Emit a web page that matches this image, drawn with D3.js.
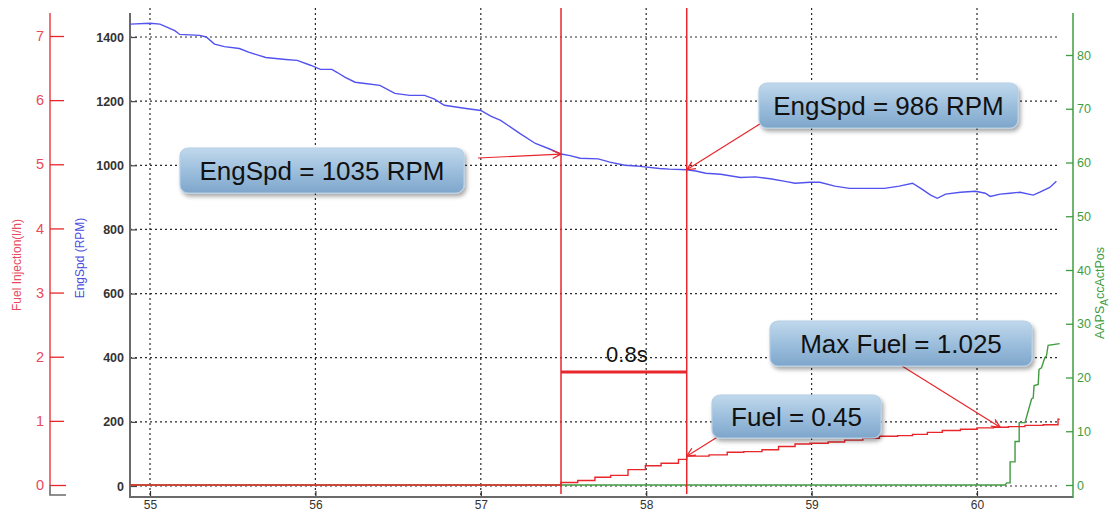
<!DOCTYPE html>
<html>
<head>
<meta charset="utf-8">
<script src="https://cdn.jsdelivr.net/npm/d3@7/dist/d3.min.js"></script>
<style>
  html, body { margin: 0; padding: 0; background: #fff; }
  svg { display: block; }
  .tick-lbl { font-family: "Liberation Sans Narrow", "Liberation Sans", Arial, sans-serif; }
  .callout { font-family: "Liberation Sans", Arial, sans-serif; }
</style>
</head>
<body>
<svg id="chart" width="1110" height="512"></svg>
<script>
// ---- axis ticks ----
const timeTicks = [55, 56, 57, 58, 59, 60];
const rpmTicks = [0, 200, 400, 600, 800, 1000, 1200, 1400];
const fuelTicks = [0, 1, 2, 3, 4, 5, 6, 7];
const pedalTicks = [0, 10, 20, 30, 40, 50, 60, 70, 80];

// ---- engine speed trace (s, RPM) ----
const engSpdTime = [54.88, 55.00, 55.06, 55.15, 55.18, 55.30, 55.34, 55.39, 55.45, 55.54,
  55.60, 55.70, 55.82, 55.89, 55.97, 56.03, 56.10, 56.13, 56.18, 56.24,
  56.30, 56.39, 56.48, 56.57, 56.66, 56.72, 56.78, 56.90, 57.00, 57.06,
  57.12, 57.24, 57.33, 57.42, 57.485, 57.54, 57.60, 57.71, 57.78, 57.87,
  57.94, 57.99, 58.08, 58.14, 58.245, 58.30, 58.36, 58.45, 58.57, 58.66,
  58.75, 58.84, 58.90, 58.99, 59.05, 59.14, 59.23, 59.35, 59.44, 59.53,
  59.61, 59.66, 59.72, 59.76, 59.81, 59.90, 59.99, 60.05, 60.08, 60.14,
  60.20, 60.26, 60.34, 60.38, 60.44, 60.48];
const engSpdRpm = [1440, 1443, 1440, 1420, 1408, 1405, 1400, 1378, 1370, 1364,
  1352, 1336, 1330, 1327, 1312, 1299, 1299, 1290, 1274, 1259,
  1255, 1249, 1224, 1218, 1218, 1206, 1187, 1178, 1171, 1153,
  1140, 1098, 1068, 1050, 1035, 1030, 1022, 1020, 1010, 1000,
  998, 995, 990, 988, 986, 982, 975, 972, 962, 964,
  958, 950, 944, 947, 947, 935, 928, 928, 928, 935,
  944, 928, 907, 897, 910, 916, 919, 913, 903, 910,
  913, 916, 907, 916, 931, 950];

// ---- fuel injection trace (s, l/h), stepped ----
const fuelTime = [54.88, 57.485, 57.586, 57.69, 57.785, 57.89, 57.995, 58.09, 58.195, 58.245,
  58.38, 58.49, 58.59, 58.70, 58.80, 58.90, 58.99, 59.10, 59.20, 59.31,
  59.41, 59.52, 59.61, 59.70, 59.79, 59.90, 60.00, 60.10, 60.19, 60.29,
  60.40, 60.49, 60.50];
const fuelRate = [0, 0.04, 0.07, 0.12, 0.15, 0.24, 0.30, 0.34, 0.40, 0.45,
  0.47, 0.51, 0.52, 0.55, 0.60, 0.64, 0.65, 0.67, 0.70, 0.73,
  0.76, 0.77, 0.79, 0.82, 0.85, 0.87, 0.89, 0.90, 0.91, 0.93,
  0.94, 1.025, 1.025];

// ---- accelerator pedal position trace (s, %) ----
const pedalTime = [54.88, 60.17, 60.18, 60.20, 60.20, 60.23, 60.23, 60.255, 60.255, 60.29,
  60.33, 60.34, 60.345, 60.37, 60.375, 60.39, 60.41, 60.42, 60.43, 60.50];
const pedalPos = [0, 0, 0.4, 0.4, 4.3, 4.3, 8.1, 8.1, 11.6, 11.6,
  16.0, 16.2, 18.5, 18.7, 21.5, 21.8, 23.7, 24.0, 26.0, 26.3];

// ---- cursors and readouts ----
const cursorTimes = [57.485, 58.245];
const engSpdReadout = [1035, 986];
const fuelReadout = 0.45;
const maxFuel = d3.max(fuelRate);
const maxFuelPointer = 60.14;

// ---- colours ----
const RED = "#e8262b", BLUE = "#5252ee", GREEN = "#3f9c3f", GRAY = "#6a6a6a";

const svg = d3.select("#chart");

// scales
const x = d3.scaleLinear().domain([55, 60]).range([150, 977]);
const yRpm = d3.scaleLinear().domain([0, 1400]).range([486, 37]);
const yFuel = d3.scaleLinear().domain([0, 7]).range([485, 36]);
const yPedal = d3.scaleLinear().domain([0, 80]).range([485, 55]);

const plotLeft = 130, plotRight = 1060, plotTop = 8, plotBottom = 497;
const rightAxisX = 1073, fuelAxisX = 50;

// defs: gradient, shadow, arrowhead
const defs = svg.append("defs");
const grad = defs.append("linearGradient").attr("id", "boxFill")
  .attr("x1", 0).attr("y1", 0).attr("x2", 0).attr("y2", 1);
grad.append("stop").attr("offset", "0%").attr("stop-color", "#c0d8ec");
grad.append("stop").attr("offset", "50%").attr("stop-color", "#9dbfdd");
grad.append("stop").attr("offset", "100%").attr("stop-color", "#7ea6cb");
const shadow = defs.append("filter").attr("id", "shadow")
  .attr("x", "-10%").attr("y", "-20%").attr("width", "130%").attr("height", "160%");
shadow.append("feDropShadow").attr("dx", 2).attr("dy", 3).attr("stdDeviation", 2.2)
  .attr("flood-color", "#000").attr("flood-opacity", 0.35);
defs.append("marker").attr("id", "arrow")
  .attr("viewBox", "0 0 10 10").attr("refX", 9.5).attr("refY", 5)
  .attr("markerWidth", 10).attr("markerHeight", 10)
  .attr("markerUnits", "userSpaceOnUse").attr("orient", "auto")
  .append("path").attr("d", "M1,1 L9.5,5 L1,9")
  .attr("fill", "none").attr("stroke", RED).attr("stroke-width", 1.3);

// ---- grid ----
const grid = svg.append("g").attr("stroke", "#2a2a2a").attr("stroke-width", 1.2)
  .attr("stroke-dasharray", "2,3");
grid.selectAll(".vg").data(timeTicks).join("line")
  .attr("x1", d => x(d)).attr("x2", d => x(d))
  .attr("y1", plotTop).attr("y2", plotBottom);
grid.selectAll(".hg").data(rpmTicks).join("line")
  .attr("x1", plotLeft).attr("x2", plotRight)
  .attr("y1", d => yRpm(d)).attr("y2", d => yRpm(d));

// ---- bottom time axis ----
const xAxis = d3.axisBottom(x).tickValues(timeTicks).tickSize(-6).tickPadding(8)
  .tickFormat(d3.format("d"));
const gx = svg.append("g").attr("transform", `translate(0,${plotBottom})`).call(xAxis);
gx.select(".domain").remove();
gx.selectAll(".tick line").attr("stroke", "#333").attr("stroke-width", 1.2);
gx.selectAll(".tick text").attr("class", "tick-lbl").attr("fill", "#333")
  .attr("font-size", 12).attr("dy", "0.3em");
svg.append("line").attr("x1", plotLeft - 1).attr("x2", rightAxisX)
  .attr("y1", plotBottom).attr("y2", plotBottom)
  .attr("stroke", GRAY).attr("stroke-width", 2);

// ---- RPM axis ----
const rpmAxis = d3.axisLeft(yRpm).tickValues(rpmTicks).tickSize(-7).tickPadding(6)
  .tickFormat(d3.format("d"));
const gr = svg.append("g").attr("transform", `translate(${plotLeft},0)`).call(rpmAxis);
gr.select(".domain").remove();
gr.selectAll(".tick line").attr("stroke", "#444").attr("stroke-width", 1.2);
gr.selectAll(".tick text").attr("class", "tick-lbl").attr("fill", "#333")
  .attr("font-size", 12.5).attr("font-weight", "bold");
svg.append("line").attr("x1", plotLeft).attr("x2", plotLeft)
  .attr("y1", 13).attr("y2", plotBottom + 1)
  .attr("stroke", GRAY).attr("stroke-width", 2);

// ---- fuel axis ----
const fuelAxis = d3.axisRight(yFuel).tickValues(fuelTicks).tickSize(14).tickPadding(0)
  .tickFormat(d3.format("d"));
const gf = svg.append("g").attr("transform", `translate(${fuelAxisX},0)`).call(fuelAxis);
gf.select(".domain").remove();
gf.selectAll(".tick line").attr("stroke", RED).attr("stroke-width", 1.3)
  .attr("x2", d => d === 0 ? 16 : 14);
gf.selectAll(".tick text").attr("class", "tick-lbl").attr("fill", "#e84a5c")
  .attr("font-size", 14.5).attr("text-anchor", "end").attr("x", -6);
svg.append("line").attr("x1", fuelAxisX).attr("x2", fuelAxisX)
  .attr("y1", 13).attr("y2", yFuel(0))
  .attr("stroke", RED).attr("stroke-width", 1.3);
svg.append("path")
  .attr("d", `M${fuelAxisX},${yFuel(0)} V${plotBottom - 2} H${fuelAxisX + 16}`)
  .attr("fill", "none").attr("stroke", GRAY).attr("stroke-width", 1.6);

// ---- pedal axis ----
const pedalAxis = d3.axisRight(yPedal).tickValues(pedalTicks).tickSize(-7).tickPadding(4)
  .tickFormat(d3.format("d"));
const gp = svg.append("g").attr("transform", `translate(${rightAxisX},0)`).call(pedalAxis);
gp.select(".domain").remove();
gp.selectAll(".tick line").attr("stroke", GREEN).attr("stroke-width", 1.3);
gp.selectAll(".tick text").attr("class", "tick-lbl").attr("fill", GREEN)
  .attr("font-size", 12.5);
svg.append("line").attr("x1", rightAxisX).attr("x2", rightAxisX)
  .attr("y1", 13).attr("y2", plotBottom + 1)
  .attr("stroke", GREEN).attr("stroke-width", 1.5);

// ---- axis titles ----
svg.append("text").attr("class", "tick-lbl")
  .attr("transform", "translate(21,265) rotate(-90)")
  .attr("text-anchor", "middle").attr("fill", "#e84a5c").attr("font-size", 12)
  .text("Fuel Injection(l/h)");
svg.append("text").attr("class", "tick-lbl")
  .attr("transform", "translate(84,258) rotate(-90)")
  .attr("text-anchor", "middle").attr("fill", "#4c4ce0").attr("font-size", 12)
  .text("EngSpd (RPM)");
const pt = svg.append("text").attr("class", "tick-lbl")
  .attr("transform", "translate(1104,293) rotate(-90)")
  .attr("text-anchor", "middle").attr("fill", GREEN).attr("font-size", 12.5);
pt.append("tspan").text("AAPS");
pt.append("tspan").attr("dy", 4).attr("font-size", 10).text("A");
pt.append("tspan").attr("dy", -4).text("ccActPos");

// ---- traces ----
const engSpdLine = d3.line().x(i => x(engSpdTime[i])).y(i => yRpm(engSpdRpm[i]));
svg.append("path").attr("d", engSpdLine(d3.range(engSpdTime.length)))
  .attr("fill", "none").attr("stroke", BLUE).attr("stroke-width", 1.4);

const pedalLine = d3.line().x(i => x(pedalTime[i])).y(i => yPedal(pedalPos[i]));
svg.append("path").attr("d", pedalLine(d3.range(pedalTime.length)))
  .attr("fill", "none").attr("stroke", GREEN).attr("stroke-width", 1.4);

const fuelLine = d3.line().curve(d3.curveStepAfter)
  .x(i => x(fuelTime[i])).y(i => yFuel(fuelRate[i]));
svg.append("path").attr("d", fuelLine(d3.range(fuelTime.length)))
  .attr("fill", "none").attr("stroke", RED).attr("stroke-width", 1.4);

// ---- cursors ----
svg.selectAll(".cursor").data(cursorTimes).join("line")
  .attr("x1", d => x(d)).attr("x2", d => x(d))
  .attr("y1", plotTop).attr("y2", 494)
  .attr("stroke", RED).attr("stroke-width", 1.5);

// duration bar between the cursors
const barY = 372;
svg.append("line").attr("x1", x(cursorTimes[0])).attr("x2", x(cursorTimes[1]))
  .attr("y1", barY).attr("y2", barY).attr("stroke", RED).attr("stroke-width", 3);
svg.append("text").attr("class", "callout")
  .attr("x", (x(cursorTimes[0]) + x(cursorTimes[1])) / 2 + 3).attr("y", barY - 10)
  .attr("text-anchor", "middle").attr("font-size", 22).attr("fill", "#111")
  .text((cursorTimes[1] - cursorTimes[0]).toFixed(1) + "s");

// ---- callouts ----
function fuelAt(t) {
  const i = d3.bisectRight(fuelTime, t) - 1;
  return fuelRate[Math.max(0, i)];
}
const callouts = [
  { text: `EngSpd = ${engSpdReadout[0]} RPM`, box: [180, 148, 284, 45], from: [478, 158],
    to: [x(cursorTimes[0]), yRpm(engSpdReadout[0])] },
  { text: `EngSpd = ${engSpdReadout[1]} RPM`, box: [759, 83, 259, 45], from: [763, 122],
    to: [x(cursorTimes[1]), yRpm(engSpdReadout[1])] },
  { text: `Fuel = ${fuelReadout}`, box: [712, 395, 169, 43], from: [719, 436],
    to: [x(cursorTimes[1]), yFuel(fuelReadout)] },
  { text: `Max Fuel = ${maxFuel}`, box: [770, 321, 262, 45], from: [902, 366],
    to: [x(maxFuelPointer), yFuel(fuelAt(maxFuelPointer))] }
];

svg.selectAll(".pointer").data(callouts).join("line")
  .attr("x1", d => d.from[0]).attr("y1", d => d.from[1])
  .attr("x2", d => d.to[0]).attr("y2", d => d.to[1])
  .attr("stroke", RED).attr("stroke-width", 1.2)
  .attr("marker-end", "url(#arrow)");

const cg = svg.selectAll(".co").data(callouts).join("g");
cg.append("rect")
  .attr("x", d => d.box[0]).attr("y", d => d.box[1])
  .attr("width", d => d.box[2]).attr("height", d => d.box[3])
  .attr("rx", 8).attr("ry", 8)
  .attr("fill", "url(#boxFill)").attr("stroke", "#b4cfe6").attr("stroke-width", 1.2)
  .attr("filter", "url(#shadow)");
cg.append("text").attr("class", "callout")
  .attr("x", d => d.box[0] + d.box[2] / 2).attr("y", d => d.box[1] + d.box[3] / 2)
  .attr("dy", "0.36em").attr("text-anchor", "middle")
  .attr("font-size", 26).attr("fill", "#111")
  .text(d => d.text);
</script>
</body>
</html>
